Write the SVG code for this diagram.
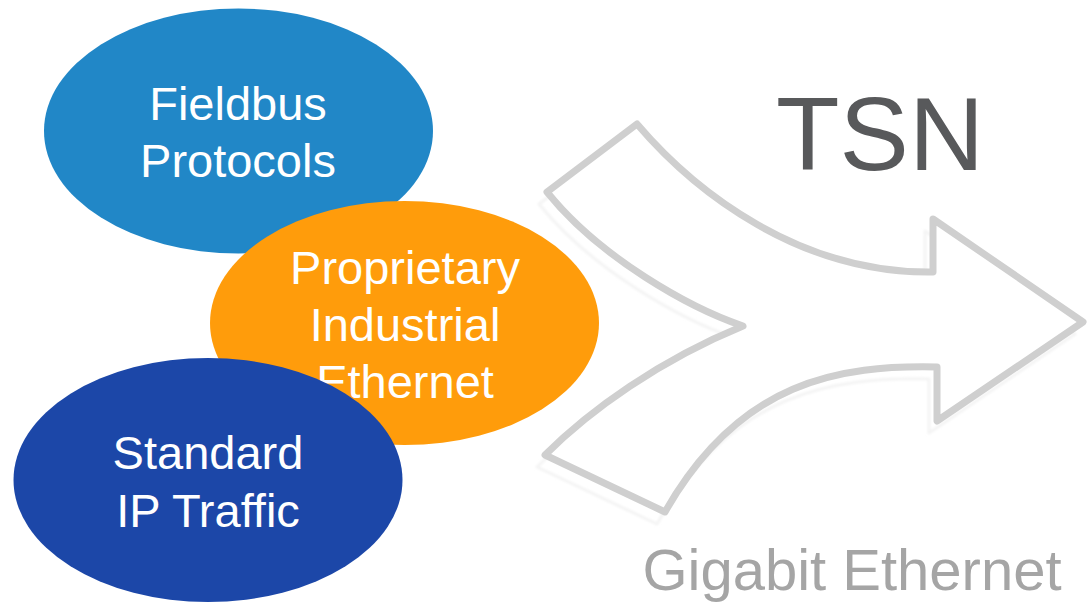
<svg xmlns="http://www.w3.org/2000/svg" width="1087" height="602" viewBox="0 0 1087 602">
  <style>
    .label { font-family: "Liberation Sans", Arial, sans-serif; font-size: 47px; fill: #FFFFFF; text-anchor: middle; }
    .arrow { fill: #FFFFFF; stroke: #CFCFCF; stroke-width: 7; stroke-linejoin: round; }
    .arrow-shadow { fill: none; stroke: #F4F4F4; stroke-width: 3; stroke-linejoin: round; }
  </style>
  <defs>
    <path id="merge-arrow" d="M 637,124 C 695,192 800,274 933,272 L 933,219 L 1083,322 L 937,421 L 937,367 C 840,365 740,380 665,512 L 545,455 C 590,410 660,360 743,326 C 690,308 600,258 547,192 Z"/>
    <filter id="soft" x="-10%" y="-10%" width="120%" height="120%">
      <feGaussianBlur stdDeviation="1.2"/>
    </filter>
  </defs>
  <rect width="1087" height="602" fill="#FFFFFF"/>

  <!-- merging arrow -->
  <g id="arrow">
    <use href="#merge-arrow" class="arrow-shadow" transform="translate(-8,12)" filter="url(#soft)"/>
    <use href="#merge-arrow" class="arrow"/>
  </g>

  <g id="tsn-title">
    <text x="880" y="170" font-family="Liberation Sans, Arial, sans-serif" font-size="104" fill="#58595B" text-anchor="middle">TSN</text>
  </g>

  <g id="gigabit-label">
    <text x="852" y="590" font-family="Liberation Sans, Arial, sans-serif" font-size="58" fill="#A5A5A5" text-anchor="middle">Gigabit Ethernet</text>
  </g>

  <g id="fieldbus">
    <ellipse cx="238.5" cy="131" rx="194.5" ry="122.5" fill="#2187C7"/>
    <text class="label" x="238" y="120">Fieldbus</text>
    <text class="label" x="238" y="177">Protocols</text>
  </g>

  <g id="proprietary">
    <ellipse cx="404.5" cy="323" rx="194.5" ry="122" fill="#FF9C0B"/>
    <text class="label" x="405" y="284">Proprietary</text>
    <text class="label" x="405" y="341">Industrial</text>
    <text class="label" x="405" y="398">Ethernet</text>
  </g>

  <g id="standard-ip">
    <ellipse cx="208" cy="480" rx="194.5" ry="122" fill="#1C47A8"/>
    <text class="label" x="208" y="469">Standard</text>
    <text class="label" x="208" y="527">IP Traffic</text>
  </g>
</svg>
